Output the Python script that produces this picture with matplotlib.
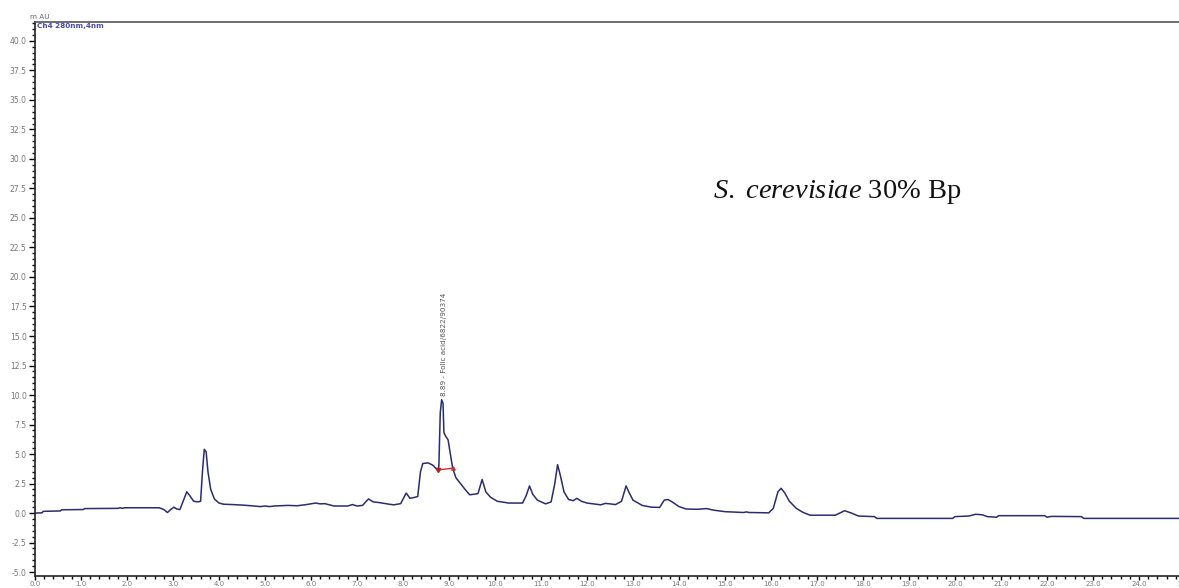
import matplotlib
matplotlib.use("Agg")
import matplotlib.pyplot as plt
from matplotlib.ticker import MultipleLocator, FormatStrFormatter

plt.rcParams["mathtext.fontset"] = "custom"
plt.rcParams["mathtext.rm"] = "Liberation Serif"
plt.rcParams["mathtext.it"] = "Liberation Serif:italic"

# Chromatogram trace (retention time in min, absorbance in mAU)
time_min = [0.00, 0.15, 0.18, 0.55, 0.58, 1.05, 1.08, 1.80, 1.85, 1.90, 1.95, 2.70, 2.80, 2.88,
            2.95, 3.02, 3.08, 3.15, 3.22, 3.30, 3.36, 3.45, 3.55, 3.60, 3.64, 3.68, 3.72, 3.76,
            3.82, 3.90, 4.00, 4.10, 4.30, 4.50, 4.70, 4.90, 5.00, 5.10, 5.20, 5.50, 5.70, 5.90,
            6.10, 6.20, 6.30, 6.50, 6.80, 6.90, 7.00, 7.12, 7.25, 7.35, 7.50, 7.70, 7.80, 7.95,
            8.07, 8.15, 8.22, 8.32, 8.38, 8.43, 8.55, 8.65, 8.76, 8.78, 8.81, 8.84, 8.87, 8.89,
            8.93, 8.98, 9.03, 9.08, 9.15, 9.25, 9.35, 9.45, 9.55, 9.63, 9.72, 9.80, 9.90, 10.05,
            10.30, 10.60, 10.68, 10.75, 10.82, 10.92, 11.10, 11.22, 11.30, 11.36, 11.42, 11.50,
            11.60, 11.70, 11.78, 11.88, 12.00, 12.30, 12.40, 12.50, 12.62, 12.75, 12.85, 12.92,
            13.00, 13.20, 13.40, 13.58, 13.68, 13.76, 13.85, 14.00, 14.15, 14.40, 14.60, 14.75,
            15.00, 15.40, 15.47, 15.52, 15.95, 16.05, 16.15, 16.22, 16.30, 16.40, 16.55, 16.70,
            16.85, 17.40, 17.60, 17.75, 17.90, 18.25, 18.30, 19.95, 20.00, 20.30, 20.45, 20.60,
            20.70, 20.90, 20.95, 21.95, 22.00, 22.10, 22.75, 22.80, 25.00]
absorbance = [0.00, 0.02, 0.15, 0.18, 0.28, 0.30, 0.38, 0.40, 0.45, 0.40, 0.45, 0.45, 0.30, 0.05,
              0.30, 0.50, 0.35, 0.30, 1.00, 1.80, 1.50, 1.00, 0.95, 1.00, 3.50, 5.40, 5.20, 3.50,
              2.00, 1.20, 0.85, 0.75, 0.72, 0.68, 0.62, 0.55, 0.60, 0.55, 0.60, 0.65, 0.62, 0.72,
              0.85, 0.78, 0.80, 0.60, 0.60, 0.72, 0.60, 0.65, 1.20, 0.95, 0.88, 0.75, 0.70, 0.80,
              1.70, 1.25, 1.30, 1.40, 3.50, 4.20, 4.25, 4.05, 3.60, 4.00, 8.50, 9.60, 9.30, 6.80,
              6.50, 6.20, 5.00, 3.80, 3.00, 2.50, 2.00, 1.55, 1.60, 1.65, 2.85, 1.80, 1.35, 1.00,
              0.85, 0.85, 1.50, 2.30, 1.60, 1.10, 0.78, 0.95, 2.50, 4.10, 3.20, 1.80,
              1.15, 1.05, 1.25, 1.00, 0.85, 0.70, 0.82, 0.78, 0.72, 1.00, 2.30, 1.70,
              1.10, 0.65, 0.50, 0.48, 1.10, 1.15, 0.95, 0.55, 0.35, 0.32, 0.38, 0.25,
              0.12, 0.05, 0.10, 0.05, 0.02, 0.40, 1.80, 2.10, 1.70, 1.00, 0.40, 0.05,
              -0.18, -0.18, 0.20, 0.00, -0.25, -0.30, -0.45, -0.45, -0.30, -0.25, -0.10, -0.15,
              -0.30, -0.35, -0.22, -0.22, -0.35, -0.28, -0.30, -0.45, -0.45]

# Integration baseline of the identified peak
baseline_t = [8.76, 9.08]
baseline_y = [3.65, 3.80]
peak_label = "8.89 - Folic acid/6822/90374"
peak_t = 8.84
peak_y = 9.60

W, H = 1179, 588
fig = plt.figure(figsize=(W / 100, H / 100), dpi=100)
x_left = 35 / W
x_per_min = 46 / W
xmax = 25.1
y_bottom_px = 576
ax = fig.add_axes([x_left, 1 - y_bottom_px / H, x_per_min * xmax, (y_bottom_px - 22) / H])
ax.set_xlim(0, xmax)
ax.set_ylim(-5.33, 41.6)

ax.plot(time_min, absorbance, color="#2b2b72", lw=1.1)
ax.plot(baseline_t, baseline_y, color="#d03030", lw=1.0)
ax.plot(baseline_t[0], baseline_y[0], marker="v", color="#b02020", ms=3)
ax.plot(baseline_t[1], baseline_y[1], marker="^", color="#d03030", ms=2.5)

ax.text(peak_t + 0.05, peak_y + 0.3, peak_label, rotation=90, ha="center", va="bottom",
        fontsize=5.2, color="#555555")

ax.xaxis.set_major_locator(MultipleLocator(1.0))
ax.xaxis.set_minor_locator(MultipleLocator(0.2))
ax.yaxis.set_major_locator(MultipleLocator(2.5))
ax.yaxis.set_minor_locator(MultipleLocator(0.5))
ax.xaxis.set_major_formatter(FormatStrFormatter("%.1f"))
ax.yaxis.set_major_formatter(FormatStrFormatter("%.1f"))
ax.tick_params(axis="both", which="major", length=4, width=1.0, labelsize=5.5,
               labelcolor="#777777", pad=2)
ax.tick_params(axis="x", which="major", length=3, pad=0.5, labelsize=5.0)
ax.tick_params(axis="both", which="minor", length=2.5, width=1.0)
for s in ["left", "bottom", "top"]:
    ax.spines[s].set_linewidth(1.2)
    ax.spines[s].set_color("#222222")
ax.spines["top"].set_color("#555555")
ax.spines["right"].set_visible(False)

fig.text(30 / W, 1 - 17 / H, "m AU", fontsize=5.2, color="#666666", va="center", ha="left")
fig.text(37 / W, 1 - 26 / H, "Ch4 280nm,4nm", fontsize=5.2, color="#4a4ab0", va="center",
         ha="left", fontweight="bold")

fig.text(713 / W, 1 - 198 / H, r"$\it{S.\ cerevisiae}$ 30% Bp", fontsize=20.5,
         family="Liberation Serif", color="#111111", va="baseline", ha="left")

fig.savefig("out.png", dpi=100)
